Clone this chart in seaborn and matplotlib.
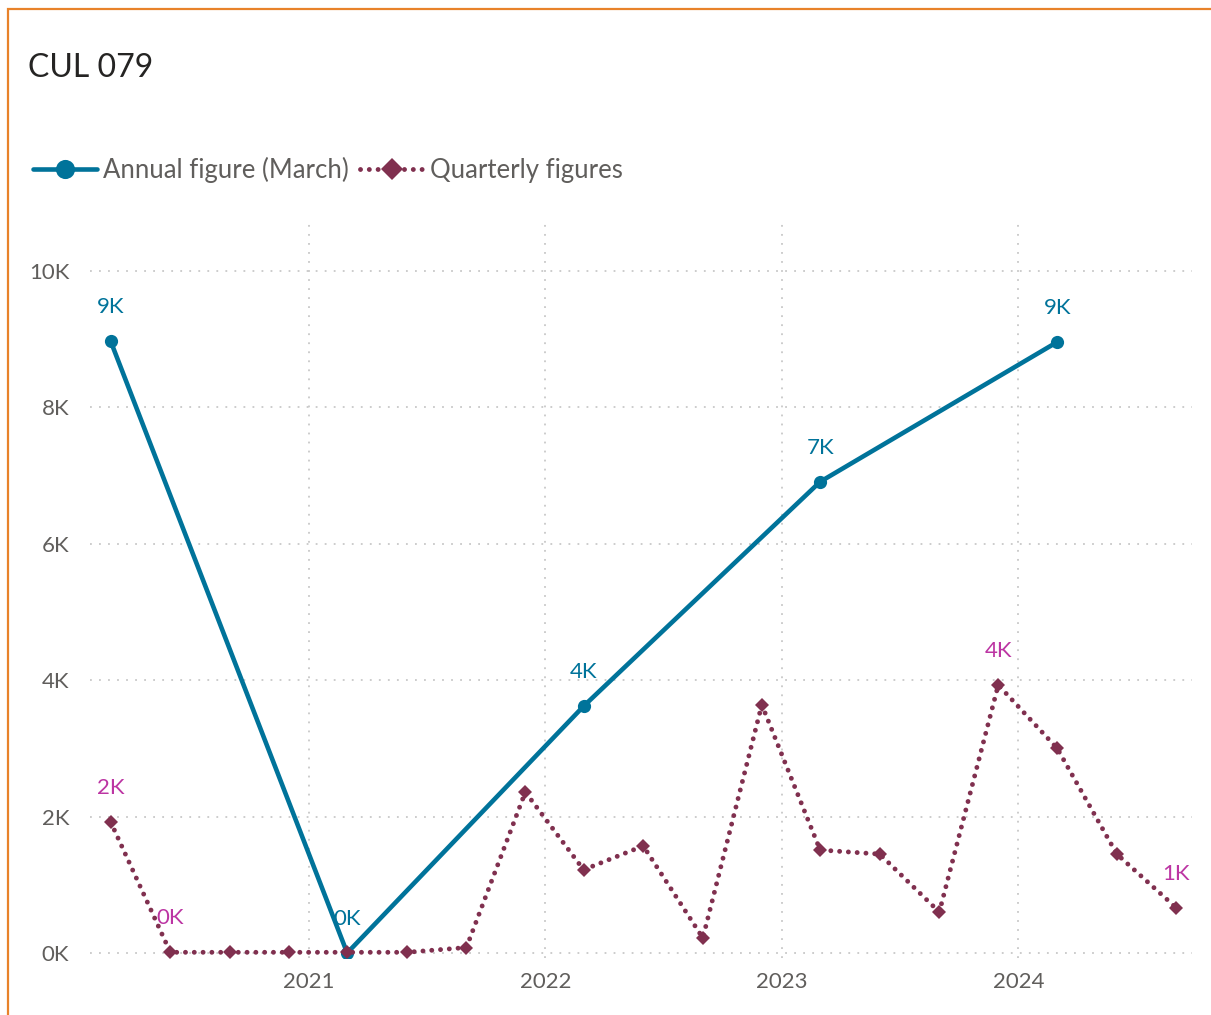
import matplotlib.pyplot as plt
import matplotlib.dates as mdates
from matplotlib.patches import Rectangle
import seaborn as sns
import pandas as pd

# === Datos ===
annual_dates = ["2020-03-01", "2021-03-01", "2022-03-01", "2023-03-01", "2024-03-01"]
annual_values = [8970, 0, 3620, 6910, 8960]

quarter_dates = ["2020-03-01", "2020-06-01", "2020-09-01", "2020-12-01",
                 "2021-03-01", "2021-06-01", "2021-09-01", "2021-12-01",
                 "2022-03-01", "2022-06-01", "2022-09-01", "2022-12-01",
                 "2023-03-01", "2023-06-01", "2023-09-01", "2023-12-01",
                 "2024-03-01", "2024-06-01", "2024-09-01"]
quarter_values = [1920, 10, 10, 10, 10, 10, 80, 2360,
                  1220, 1570, 220, 3640, 1510, 1450, 600, 3930,
                  3000, 1450, 660]
quarter_labelled = ["2020-03-01", "2020-06-01", "2023-12-01", "2024-09-01"]

yticks = [0, 2000, 4000, 6000, 8000, 10000]
ytick_labels = ["0K", "2K", "4K", "6K", "8K", "10K"]
xticks = ["2021-01-01", "2022-01-01", "2023-01-01", "2024-01-01"]
xtick_labels = ["2021", "2022", "2023", "2024"]

teal = "#00739A"
maroon = "#80304F"
magenta = "#BC35A3"
gray_text = "#605E5C"

df_a = pd.DataFrame({"date": pd.to_datetime(annual_dates), "value": annual_values})
df_q = pd.DataFrame({"date": pd.to_datetime(quarter_dates), "value": quarter_values})

sns.set_style("white")
plt.rcParams["font.family"] = ["Lato", "DejaVu Sans"]

fig = plt.figure(figsize=(12.11, 10.15), dpi=100)
ax = fig.add_axes([0.0743, 0.0562, 0.91, 0.7251])

sns.lineplot(data=df_a, x="date", y="value", ax=ax, color=teal, lw=3.3,
             marker="o", markersize=9.5, markeredgewidth=0,
             label="Annual figure (March)", zorder=3)

sns.lineplot(data=df_q, x="date", y="value", ax=ax, color=maroon, lw=3.5,
             marker="D", markersize=7.5, markeredgewidth=0,
             label="Quarterly figures", zorder=4)
ln_q = ax.lines[-1]
ln_q.set_linestyle((0, (0.01, 1.8)))
ln_q.set_dash_capstyle("round")

# === Etiquetas de datos ===
for d, v in zip(df_a["date"], df_a["value"]):
    ax.annotate(f"{v/1000:.0f}K", (d, v), xytext=(0, 24.5), textcoords="offset points",
                ha="center", va="center", color=teal, fontsize=16)
for d, v in zip(df_q["date"], df_q["value"]):
    if d in pd.to_datetime(quarter_labelled):
        ax.annotate(f"{v/1000:.0f}K", (d, v), xytext=(0, 24.5), textcoords="offset points",
                    ha="center", va="center", color=magenta, fontsize=16)

# === Ejes ===
x0 = mdates.date2num(pd.Timestamp("2020-01-29"))
x1 = mdates.date2num(pd.Timestamp("2024-09-25"))
ax.set_xlim(x0, x1)
ax.set_ylim(-73, 10720)
ax.set_xticks(pd.to_datetime(xticks))
ax.set_xticklabels(xtick_labels)
ax.set_yticks(yticks)
ax.set_yticklabels(ytick_labels)
ax.set_xlabel("")
ax.set_ylabel("")
ax.tick_params(axis="both", length=0, labelsize=16, labelcolor=gray_text)
ax.tick_params(axis="x", pad=10)
ax.tick_params(axis="y", pad=15)
ax.grid(True, color="#C8C8C8", linestyle=(0, (1, 4)), linewidth=1.3)
for s in ax.spines.values():
    s.set_visible(False)

# === Leyenda ===
handles, labels = ax.get_legend_handles_labels()
ax.get_legend().remove()
fig.legend(handles, labels,
           loc="center left", bbox_to_anchor=(0.008, 1 - 170 / 1015), ncol=2,
           frameon=False, fontsize=18.5, labelcolor=gray_text, markerscale=1.45,
           handlelength=2.5, handletextpad=0.25, columnspacing=0.4)

fig.text(28 / 1211, 1 - 68 / 1015, "CUL 079", fontsize=23, color="#252423",
         ha="left", va="center")

fig.patches.append(Rectangle((8 / 1211, -0.05), 1.1, 1.05 - 9 / 1015,
                             transform=fig.transFigure, fill=False,
                             edgecolor="#E8822A", lw=1.6))

plt.savefig("out.png", dpi=100)
